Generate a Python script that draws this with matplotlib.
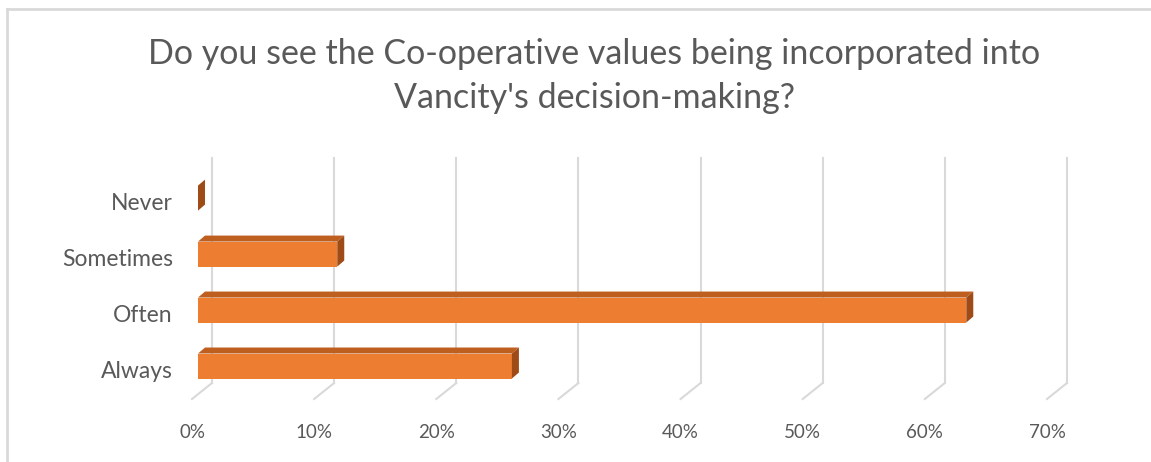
import matplotlib
matplotlib.use("Agg")
import matplotlib.pyplot as plt
from matplotlib.patches import Polygon
from matplotlib.lines import Line2D

# ---- data ----
categories = ["Always", "Often", "Sometimes", "Never"]
values = [25.7, 62.9, 11.4, 0.0]          # percent
ticks = [0, 10, 20, 30, 40, 50, 60, 70]
tick_labels = [f"{t}%" for t in ticks]
title = "Do you see the Co-operative values being incorporated into\nVancity's decision-making?"

# ---- style ----
W, H, DPI = 1151, 462, 100
FRONT = "#ED7D31"
TOP = "#BE5F1F"
SIDE = "#9E4B17"
GRID = "#D9D9D9"
TXT = "#595959"
FONT = ["Lato", "DejaVu Sans"]

plt.rcParams["font.family"] = FONT

fig = plt.figure(figsize=(W / DPI, H / DPI), dpi=DPI)
fig.patch.set_facecolor("white")

# axes in the "bar front plane" (pixel geometry)
left_px, right_px, top_px, bot_px = 198, 1053, 169, 394
ax = fig.add_axes([left_px / W, 1 - bot_px / H, (right_px - left_px) / W, (bot_px - top_px) / H])
ax.set_xlim(0, 70)
ax.set_ylim(-0.5, 3.52)
ax.axis("off")

# pixel -> data conversion
px_x = 70 / (right_px - left_px)
px_y = 4.02 / (bot_px - top_px)

# offsets (pixels) relative to bar front plane
back_dx, back_dy = 14, 11      # back wall (right, up)
front_dx, front_dy = -6, -5    # front edge of floor
bar_dx, bar_dy = 7, 6          # bar depth

y0, y1 = ax.get_ylim()
# gridlines on back wall + floor diagonals
for t, lab in zip(ticks, tick_labels):
    xb = t + back_dx * px_x
    yb = y0 + back_dy * px_y
    ax.add_line(Line2D([xb, xb], [yb, y1 + back_dy * px_y], color=GRID, lw=1.5,
                       clip_on=False, zorder=1))
    ax.add_line(Line2D([xb, t + front_dx * px_x], [yb, y0 + front_dy * px_y], color=GRID,
                       lw=1.5, clip_on=False, zorder=1))
    ax.text(t + front_dx * px_x, y0 + front_dy * px_y - 33 * px_y, lab,
            ha="center", va="center", fontsize=13.5, color=TXT, clip_on=False)

# bars
h = 25 * px_y
ddx, ddy = bar_dx * px_x, bar_dy * px_y
ypos = list(range(len(categories)))
ax.barh(ypos, values, height=h, color=FRONT, zorder=3, edgecolor="none")
for y, v in zip(ypos, values):
    top = y + h / 2
    bot = y - h / 2
    ax.add_patch(Polygon([(0, top), (v, top), (v + ddx, top + ddy), (ddx, top + ddy)],
                         closed=True, facecolor=TOP, edgecolor="none", zorder=3))
    ax.add_patch(Polygon([(v, bot), (v, top), (v + ddx, top + ddy), (v + ddx, bot + ddy)],
                         closed=True, facecolor=SIDE, edgecolor="none", zorder=3))
    ax.text(-25 * px_x, y - 0.1, categories[y], ha="right", va="center",
            fontsize=16.5, color=TXT, clip_on=False)

# title
fig.text(594 / W, 1 - 76 / H, title, ha="center", va="center", fontsize=24.5,
         color=TXT, linespacing=1.5)

# chart border (only top and left are visible in the crop)
fig.add_artist(Line2D([6.5 / W, 6.5 / W], [0, 1 - 8.5 / H], color=GRID, lw=2,
                      transform=fig.transFigure))
fig.add_artist(Line2D([6.5 / W, 1], [1 - 8.5 / H, 1 - 8.5 / H], color=GRID, lw=2,
                      transform=fig.transFigure))

fig.savefig("out.png", dpi=DPI, facecolor="white")
